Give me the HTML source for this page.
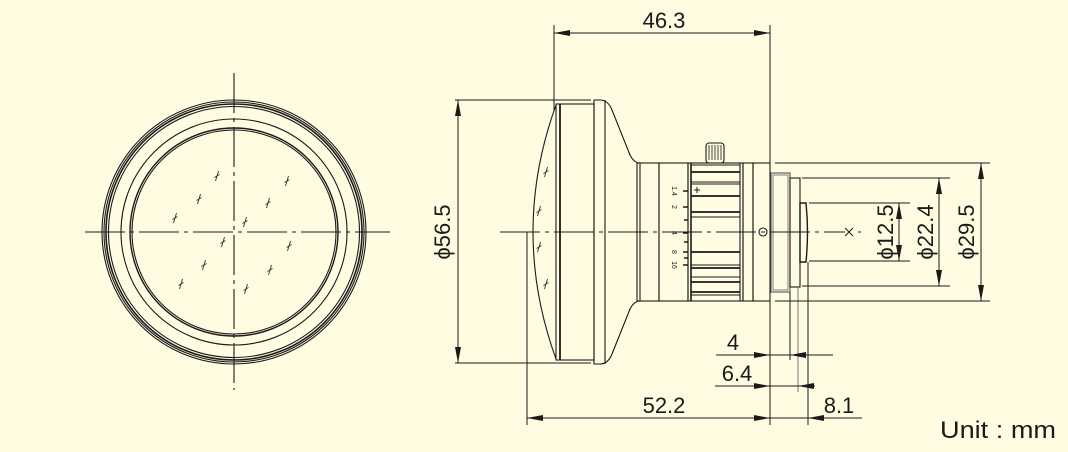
<!DOCTYPE html>
<html><head><meta charset="utf-8"><style>
html,body{margin:0;padding:0;background:#fffce1;}
svg{display:block;}
text{font-family:"Liberation Sans",sans-serif;fill:#1a1a1a;}
</style></head><body>
<svg width="1068" height="452" viewBox="0 0 1068 452" xmlns="http://www.w3.org/2000/svg">
<defs>
<marker id="a" viewBox="0 0 16 6" refX="16" refY="3" markerWidth="16" markerHeight="6" markerUnits="userSpaceOnUse" orient="auto-start-reverse"><path d="M0,0 L16,3 L0,6 z" fill="#1a1a1a"/></marker>
<g id="m"><path d="M-1.5,5 L1.5,-5 M-2.5,1.5 L2.5,-1.5" stroke="#333" stroke-width="0.9" fill="none"/></g>
</defs>
<g fill="none" stroke="#1a1a1a" stroke-width="1.1">
<circle cx="234" cy="232" r="132"/>
<circle cx="234" cy="232" r="130"/>
<circle cx="234" cy="232" r="128" stroke-width="1.6"/>
<circle cx="234" cy="232" r="125.5"/>
<circle cx="234" cy="232" r="113"/>
<circle cx="234" cy="232" r="104" stroke-width="1.4"/>
<circle cx="234" cy="232" r="102"/>
<path d="M234,73 V390 M85,232 H390" stroke-dasharray="40,5,4,5"/>
</g>
<g>
<use href="#m" x="217" y="176"/><use href="#m" x="199" y="199"/><use href="#m" x="175" y="218"/>
<use href="#m" x="287" y="181"/><use href="#m" x="268" y="203"/><use href="#m" x="245" y="222"/>
<use href="#m" x="223" y="242"/><use href="#m" x="204" y="265"/><use href="#m" x="181" y="284"/>
<use href="#m" x="289" y="246"/><use href="#m" x="270" y="270"/><use href="#m" x="246" y="289"/>
</g>
<g fill="none" stroke="#1a1a1a" stroke-width="1.1">
<path d="M556,105 Q510,232 556,359" />
<rect x="556" y="104" width="38" height="256"/>
<line x1="560" y1="104" x2="560" y2="360" stroke-width="1.8"/>
<path d="M594,100 L600,100 Q608,100 612,110 L630,155 Q634,163 640,163 L640,301 Q634,301 630,309 L612,354 Q608,364 600,364 L594,364 Z"/>
<line x1="605" y1="100" x2="605" y2="364"/>
<rect x="637" y="163" width="22" height="138"/>
<rect x="659" y="163" width="29" height="138"/>
<rect x="688" y="163" width="55" height="138"/>
<line x1="691" y1="163" x2="691" y2="301" stroke-width="1.6"/>
<line x1="740" y1="163" x2="740" y2="301"/>
<rect x="743" y="163" width="10" height="138"/>
<rect x="753" y="163" width="17" height="138"/>
<rect x="771" y="173" width="19" height="119" stroke="#555"/>
<rect x="773" y="175" width="15" height="115" stroke="#888"/>
<rect x="790" y="178" width="10" height="109"/>
<path d="M800,203 H806 Q809,232 806,262 H800 Z" stroke-width="1.4"/>
<rect x="706" y="143" width="18" height="20" rx="3"/>
<path d="M709,145 V160 M712,145 V160 M715,145 V160 M718,145 V160 M721,145 V160" stroke-width="0.8"/>
<circle cx="763" cy="232" r="4"/>
</g>
<g stroke="#1a1a1a" stroke-width="0.9">
<line x1="691" y1="165" x2="740" y2="165"/>
<line x1="691" y1="172" x2="740" y2="172" stroke-width="1.8"/>
<line x1="691" y1="182" x2="740" y2="182"/>
<line x1="691" y1="184" x2="740" y2="184"/>
<line x1="691" y1="196" x2="740" y2="196" stroke-width="1.8"/>
<line x1="691" y1="212" x2="740" y2="212" stroke-width="1.8"/>
<line x1="691" y1="217" x2="740" y2="217"/>
<line x1="691" y1="252" x2="740" y2="252" stroke-width="1.8"/>
<line x1="691" y1="265" x2="740" y2="265"/>
<line x1="691" y1="268" x2="740" y2="268" stroke-width="1.8"/>
<line x1="691" y1="277" x2="740" y2="277"/>
<line x1="691" y1="282" x2="740" y2="282" stroke-width="1.8"/>
<line x1="691" y1="292" x2="740" y2="292" stroke-width="1.8"/>
<line x1="691" y1="295" x2="740" y2="295"/>
<path d="M683,191 H688 M683,207 H688 M684,220 H688 M683,233 H688 M684,242 H688 M683,252 H688 M684,258 H688 M683,265 H688" stroke-width="1.5"/>
<path d="M697,187 V193 M694,190 H700" stroke-width="1"/>
</g>
<g font-size="7">
<text transform="translate(675,191) rotate(90)" text-anchor="middle" x="0" y="3">1.4</text>
<text transform="translate(675,207) rotate(90)" text-anchor="middle" x="0" y="3">2</text>
<text transform="translate(675,233) rotate(90)" text-anchor="middle" x="0" y="3">4</text>
<text transform="translate(675,252) rotate(90)" text-anchor="middle" x="0" y="3">8</text>
<text transform="translate(675,265) rotate(90)" text-anchor="middle" x="0" y="3">16</text>
</g>
<g>
<use href="#m" x="546" y="172"/><use href="#m" x="539" y="211"/><use href="#m" x="539" y="247"/><use href="#m" x="546" y="284"/>
</g>
<g fill="none" stroke="#1a1a1a" stroke-width="1">
<path d="M500,232 H845" stroke-dasharray="40,5,4,5"/>
<path d="M845,228 L853,236 M845,236 L853,228 M858,232 H861"/>
<path d="M554,25 V110 M770,25 V425 M527,232 V425 M455,100 H591 M455,363 H591"/>
<path d="M790,292 V360 M808,262 V425"/>
<path d="M798,287 V392" stroke="#777"/>
<path d="M775,163 H990 M775,301 H990 M802,178 H950 M802,286 H950 M809,203 H910 M809,261 H910"/>
<line x1="554" y1="33" x2="770" y2="33" marker-start="url(#a)" marker-end="url(#a)"/>
<line x1="458" y1="100" x2="458" y2="363" marker-start="url(#a)" marker-end="url(#a)"/>
<line x1="899" y1="203" x2="899" y2="261" marker-start="url(#a)" marker-end="url(#a)"/>
<line x1="939" y1="178" x2="939" y2="286" marker-start="url(#a)" marker-end="url(#a)"/>
<line x1="981" y1="163" x2="981" y2="301" marker-start="url(#a)" marker-end="url(#a)"/>
<line x1="527" y1="418" x2="770" y2="418" marker-start="url(#a)" marker-end="url(#a)"/>
<line x1="716" y1="355" x2="770" y2="355" marker-end="url(#a)"/>
<line x1="833" y1="355" x2="790" y2="355" marker-end="url(#a)"/>
<line x1="770" y1="355" x2="790" y2="355"/>
<line x1="715" y1="386" x2="770" y2="386" marker-end="url(#a)"/>
<line x1="815" y1="386" x2="798" y2="386" marker-end="url(#a)"/>
<line x1="770" y1="386" x2="798" y2="386"/>
<line x1="862" y1="418" x2="808" y2="418" marker-end="url(#a)"/>
<line x1="770" y1="418" x2="808" y2="418"/>
</g>
<g font-size="22">
<text x="664" y="28" text-anchor="middle">46.3</text>
<text transform="translate(450,232) rotate(-90)" text-anchor="middle">ϕ56.5</text>
<text transform="translate(893,232) rotate(-90)" text-anchor="middle">ϕ12.5</text>
<text transform="translate(933,232) rotate(-90)" text-anchor="middle">ϕ22.4</text>
<text transform="translate(974,232) rotate(-90)" text-anchor="middle">ϕ29.5</text>
<text x="733" y="350" text-anchor="middle">4</text>
<text x="737" y="381" text-anchor="middle">6.4</text>
<text x="664" y="413" text-anchor="middle">52.2</text>
<text x="839" y="413" text-anchor="middle">8.1</text>
<text x="940" y="438" font-size="24" textLength="116" lengthAdjust="spacingAndGlyphs">Unit : mm</text>
</g>
</svg>
</body></html>
